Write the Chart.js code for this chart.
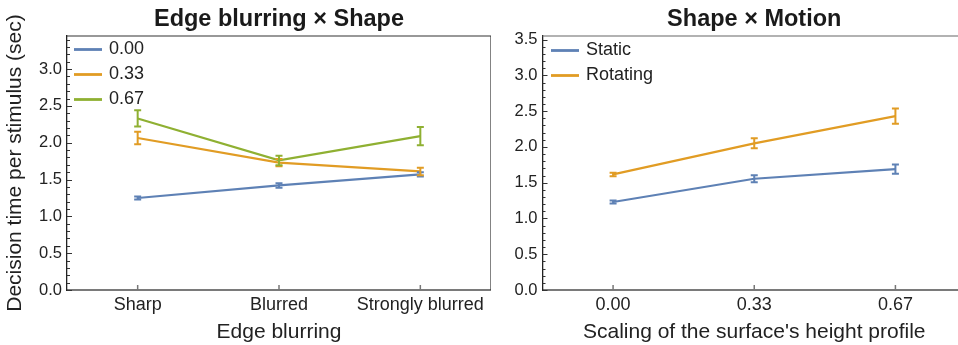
<!DOCTYPE html>
<html>
  <head>
    <title>Decision time</title>
    <script src="https://cdn.jsdelivr.net/npm/chart.js"></script>
    <style>
      body {
        margin: 0;
        width: 958px;
        height: 345px;
        overflow: hidden;
        position: relative;
        background: #fff;
      }
      canvas {
        position: absolute;
        top: 0;
      }
      #blurChart { left: 0; }
      #motionChart { left: 491px; }
    </style>
  </head>
  <body>
    <canvas id="blurChart" width="491" height="345"></canvas>
    <canvas id="motionChart" width="475" height="345"></canvas>

    <script>
      // left panel: edge blurring x shape
      const blurLevels = ["Sharp", "Blurred", "Strongly blurred"];
      const shapeLabels = ["0.00", "0.33", "0.67"];
      const shape000 = [1.25, 1.42, 1.57];
      const shape000Err = [0.02, 0.03, 0.03];
      const shape033 = [2.065, 1.73, 1.61];
      const shape033Err = [0.085, 0.05, 0.05];
      const shape067 = [2.33, 1.76, 2.09];
      const shape067Err = [0.11, 0.065, 0.125];

      // right panel: shape x motion
      const scalingLevels = ["0.00", "0.33", "0.67"];
      const motionLabels = ["Static", "Rotating"];
      const staticTimes = [1.23, 1.555, 1.69];
      const staticErr = [0.02, 0.05, 0.065];
      const rotatingTimes = [1.615, 2.05, 2.43];
      const rotatingErr = [0.025, 0.07, 0.105];

      const BLUE = "#5e81b5", ORANGE = "#e19c24", GREEN = "#8fb032";
      const FONT = "'Liberation Sans', Arial, sans-serif";
      const INK = "#222";

      // error bars, inner ticks, frame and legend
      const panelDecor = {
        id: "panelDecor",
        afterDraw(chart, args, opts) {
          const { ctx, chartArea: a, scales: { x, y } } = chart;
          ctx.save();

          chart.data.datasets.forEach(ds => {
            ctx.strokeStyle = ds.borderColor;
            ctx.lineWidth = 2;
            ds.err.forEach((e, j) => {
              const px = x.getPixelForValue(j);
              const hi = y.getPixelForValue(ds.data[j] + e);
              const lo = y.getPixelForValue(ds.data[j] - e);
              ctx.beginPath();
              ctx.moveTo(px, hi); ctx.lineTo(px, lo);
              ctx.moveTo(px - 3.5, hi); ctx.lineTo(px + 3.5, hi);
              ctx.moveTo(px - 3.5, lo); ctx.lineTo(px + 3.5, lo);
              ctx.stroke();
            });
          });

          // y ticks every 0.1, longer at 0.5
          ctx.strokeStyle = "#333";
          ctx.lineWidth = 1;
          for (let k = 0; k / 10 <= y.max + 1e-9; k++) {
            const py = Math.round(y.getPixelForValue(k / 10)) + 0.5;
            const len = k % 5 === 0 ? 5 : 3;
            ctx.beginPath();
            ctx.moveTo(a.left, py); ctx.lineTo(a.left + len, py);
            ctx.stroke();
          }

          // x ticks pointing inward
          ctx.strokeStyle = "#777";
          ctx.lineWidth = 1.5;
          x.ticks.forEach((t, j) => {
            const px = x.getPixelForValue(j);
            ctx.beginPath();
            ctx.moveTo(px, a.bottom); ctx.lineTo(px, a.bottom - 5);
            ctx.stroke();
          });

          // top and right frame
          ctx.strokeStyle = opts.frameColor;
          ctx.lineWidth = 1.2;
          ctx.beginPath();
          ctx.moveTo(a.left, a.top); ctx.lineTo(a.right, a.top);
          if (opts.rightEdge) ctx.lineTo(a.right, a.bottom);
          ctx.stroke();

          // legend
          ctx.font = "18px " + FONT;
          ctx.textBaseline = "middle";
          chart.data.datasets.forEach((ds, i) => {
            const ly = a.top + opts.legendTop + i * 25;
            ctx.strokeStyle = ds.borderColor;
            ctx.lineWidth = 2.8;
            ctx.beginPath();
            ctx.moveTo(a.left + opts.legendX, ly);
            ctx.lineTo(a.left + opts.legendX + 28, ly);
            ctx.stroke();
            ctx.fillStyle = INK;
            ctx.fillText(ds.label, a.left + opts.legendX + 35, ly);
          });

          ctx.restore();
        }
      };

      function makeOptions(title, xTitle, yTitle, yMax, yWidth, decor) {
        return {
          responsive: false,
          animation: false,
          layout: { padding: { left: 0, right: 0, top: 0, bottom: 0 } },
          elements: {
            line: { borderWidth: 2.2, tension: 0 },
            point: { radius: 0 }
          },
          plugins: {
            legend: { display: false },
            tooltip: { enabled: false },
            title: {
              display: true,
              text: title,
              fullSize: false,
              color: "#1a1a1a",
              font: { family: FONT, size: 23.5, weight: "bold" },
              padding: { top: 5, bottom: 2.8 }
            },
            panelDecor: decor
          },
          scales: {
            x: {
              type: "category",
              offset: true,
              grid: { display: false, drawTicks: false },
              border: { display: true, color: "#7a7a7a", width: 2 },
              ticks: { color: INK, padding: 4, font: { family: FONT, size: 18 }, maxRotation: 0, autoSkip: false },
              title: { display: true, text: xTitle, color: INK, font: { family: FONT, size: 21 }, padding: { top: 0, bottom: 0 } },
              afterFit: s => { s.height = 55; }
            },
            y: {
              min: 0,
              max: yMax,
              grid: { display: false, drawTicks: false },
              border: { display: true, color: "#222", width: 1.3 },
              ticks: {
                stepSize: 0.5,
                includeBounds: false,
                color: INK,
                padding: 5,
                font: { family: FONT, size: 16.5 },
                callback: v => v.toFixed(1)
              },
              title: { display: !!yTitle, text: yTitle, color: INK, font: { family: FONT, size: 21 }, padding: { top: 3, bottom: 0 } },
              afterFit: s => { s.width = yWidth; }
            }
          }
        };
      }

      new Chart(document.getElementById("blurChart"), {
        type: "line",
        data: {
          labels: blurLevels,
          datasets: [
            { label: shapeLabels[0], data: shape000, err: shape000Err, borderColor: BLUE },
            { label: shapeLabels[1], data: shape033, err: shape033Err, borderColor: ORANGE },
            { label: shapeLabels[2], data: shape067, err: shape067Err, borderColor: GREEN }
          ]
        },
        options: makeOptions("Edge blurring \u00d7 Shape", "Edge blurring",
          "Decision time per stimulus (sec)", 3.45, 67,
          { frameColor: "#333", rightEdge: true, legendX: 7, legendTop: 13.5 }),
        plugins: [panelDecor]
      });

      new Chart(document.getElementById("motionChart"), {
        type: "line",
        data: {
          labels: scalingLevels,
          datasets: [
            { label: motionLabels[0], data: staticTimes, err: staticErr, borderColor: BLUE },
            { label: motionLabels[1], data: rotatingTimes, err: rotatingErr, borderColor: ORANGE }
          ]
        },
        options: makeOptions("Shape \u00d7 Motion", "Scaling of the surface's height profile",
          "", 3.55, 51.5,
          { frameColor: "#666", rightEdge: false, legendX: 8.5, legendTop: 14.5 }),
        plugins: [panelDecor]
      });
    </script>
  </body>
</html>
